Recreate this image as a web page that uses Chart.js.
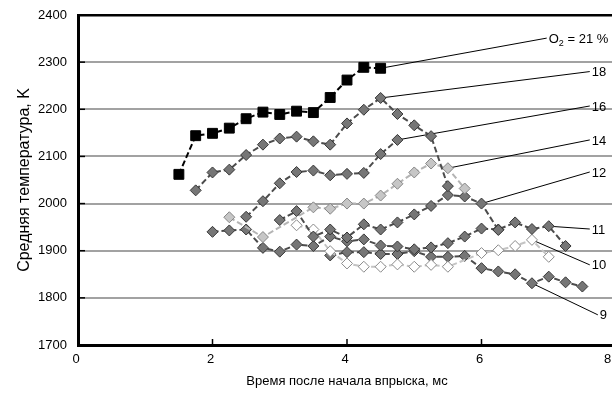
<!DOCTYPE html>
<html><head><meta charset="utf-8">
<script src="https://cdn.jsdelivr.net/npm/chart.js@4/dist/chart.umd.min.js"></script>
<style>
html,body{margin:0;padding:0;background:#fff;overflow:hidden;width:612px;height:396px}
#wrap{position:absolute;left:0;top:0;width:616px;height:396px}
</style>
</head><body><div id="wrap"><canvas id="c" width="616" height="396"></canvas></div>
<script>
const FONT = "'Liberation Sans', Arial, sans-serif";

// ---- data (time, ms / mean temperature, K) ----
const xTicks = [0, 2, 4, 6, 8];
const yTicks = [1700, 1800, 1900, 2000, 2100, 2200, 2300, 2400];
const seriesNames = ['O2 = 21 %', '18', '16', '14', '12', '11', '10', '9'];

const t21 = [1.5, 1.75, 2, 2.25, 2.5, 2.75, 3, 3.25, 3.5, 3.75, 4, 4.25, 4.5];
const T21 = [2062, 2144, 2149, 2160, 2180, 2194, 2189, 2196, 2193, 2225, 2262, 2289, 2287];

const t18 = [1.75, 2, 2.25, 2.5, 2.75, 3, 3.25, 3.5, 3.75, 4, 4.25, 4.5, 4.75, 5, 5.25, 5.5];
const T18 = [2028, 2066, 2072, 2103, 2125, 2138, 2142, 2132, 2125, 2170, 2199, 2224, 2190, 2166, 2143, 2037];

const t16 = [2.5, 2.75, 3, 3.25, 3.5, 3.75, 4, 4.25, 4.5, 4.75];
const T16 = [1972, 2005, 2043, 2067, 2070, 2060, 2063, 2065, 2105, 2135];

const t14 = [2.25, 2.75, 3.5, 3.75, 4, 4.25, 4.5, 4.75, 5, 5.25, 5.5, 5.75];
const T14 = [1971, 1929, 1992, 1989, 2000, 2000, 2017, 2042, 2066, 2085, 2075, 2032];

const t12 = [3, 3.25, 3.5, 3.75, 4, 4.25, 4.5, 4.75, 5, 5.25, 5.5, 5.75, 6, 6.25];
const T12 = [1965, 1984, 1930, 1945, 1928, 1956, 1945, 1960, 1977, 1995, 2018, 2015, 2000, 1944];

const t11 = [2, 2.25, 2.5, 2.75, 3, 3.25, 3.5, 3.75, 4, 4.25, 4.5, 4.75, 5, 5.25, 5.5, 5.75, 6, 6.25, 6.5, 6.75, 7, 7.25];
const T11 = [1940, 1943, 1945, 1906, 1898, 1913, 1910, 1930, 1920, 1924, 1911, 1909, 1903, 1907, 1916, 1930, 1947, 1945, 1960, 1946, 1952, 1910];

const t10 = [3.25, 3.5, 3.75, 4, 4.25, 4.5, 4.75, 5, 5.25, 5.5, 6, 6.25, 6.5, 6.75, 7];
const T10 = [1954, 1945, 1899, 1873, 1866, 1866, 1871, 1866, 1870, 1866, 1895, 1901, 1910, 1923, 1887];

const t9 = [3.75, 4, 4.25, 4.5, 4.75, 5, 5.25, 5.5, 5.75, 6, 6.25, 6.5, 6.75, 7, 7.25, 7.5];
const T9 = [1890, 1897, 1897, 1893, 1893, 1899, 1887, 1887, 1889, 1863, 1856, 1850, 1831, 1845, 1833, 1824];

function pts(xs, ys) { return xs.map((x, i) => ({ x: x, y: ys[i] })); }

const DARK = { line: '#4c4c4c', fill: '#767676', edge: '#363636' };
const LIGHT = { line: '#b4b4b4', fill: '#c6c6c6', edge: '#858585' };
const WHITE = { line: '#c4c4c4', fill: '#ffffff', edge: '#8a8a8a' };

function ds(name, xs, ys, sty, extra) {
  return Object.assign({
    label: name, data: pts(xs, ys), showLine: true, spanGaps: true,
    borderColor: sty.line, borderWidth: 2, borderDash: [6, 3],
    pointStyle: 'rectRot', pointRadius: 5.5, pointHoverRadius: 5.5,
    pointBackgroundColor: sty.fill, pointBorderColor: sty.edge, pointBorderWidth: 1
  }, extra || {});
}

const datasets = [
  ds(seriesNames[0], t21, T21, { line: '#000', fill: '#000', edge: '#000' }, { pointStyle: 'rect', pointRadius: 7 }),
  ds(seriesNames[1], t18, T18, DARK),
  ds(seriesNames[2], t16, T16, DARK),
  ds(seriesNames[3], t14, T14, LIGHT),
  ds(seriesNames[4], t12, T12, DARK),
  ds(seriesNames[5], t11, T11, DARK),
  ds(seriesNames[6], t10, T10, WHITE),
  ds(seriesNames[7], t9, T9, DARK)
];

// leader lines: dataset index, point index, end of the leader in data units
const leaders = [
  { d: 0, i: 12, ex: 6.97, ey: 2351 },
  { d: 1, i: 11, ex: 7.61, ey: 2280 },
  { d: 2, i: 9, ex: 7.61, ey: 2207 },
  { d: 3, i: 10, ex: 7.61, ey: 2135 },
  { d: 4, i: 12, ex: 7.61, ey: 2067 },
  { d: 5, i: 20, ex: 7.61, ey: 1946 },
  { d: 6, i: 13, ex: 7.61, ey: 1870 },
  { d: 7, i: 12, ex: 7.73, ey: 1764 }
];

const decor = {
  id: 'decor',
  beforeDatasetsDraw(chart) {
    const { ctx, scales: { x, y } } = chart;
    ctx.save();
    ctx.strokeStyle = '#000'; ctx.lineWidth = 1; ctx.setLineDash([]);
    leaders.forEach(l => {
      const p = chart.data.datasets[l.d].data[l.i];
      ctx.beginPath();
      ctx.moveTo(x.getPixelForValue(p.x), y.getPixelForValue(p.y));
      ctx.lineTo(x.getPixelForValue(l.ex), y.getPixelForValue(l.ey));
      ctx.stroke();
    });
    ctx.restore();
  },
  afterDraw(chart) {
    const { ctx, scales: { x, y }, chartArea: a } = chart;
    ctx.save();
    ctx.strokeStyle = '#000'; ctx.lineWidth = 1.5; ctx.setLineDash([]);
    yTicks.forEach(v => {
      const py = y.getPixelForValue(v);
      ctx.beginPath(); ctx.moveTo(a.left, py); ctx.lineTo(a.left + 7, py); ctx.stroke();
    });
    xTicks.forEach(v => {
      if (v === 0) return;
      const px = x.getPixelForValue(v);
      ctx.beginPath(); ctx.moveTo(px, a.bottom); ctx.lineTo(px, a.bottom - 6); ctx.stroke();
    });
    // series labels
    ctx.fillStyle = '#000';
    ctx.textBaseline = 'middle';
    ctx.textAlign = 'left';
    leaders.forEach((l, k) => {
      let px = x.getPixelForValue(l.ex) + 2;
      const py = y.getPixelForValue(l.ey) + 1;
      const name = seriesNames[l.d];
      if (k === 0) {
        ctx.font = '13px ' + FONT;
        ctx.fillText('O', px, py);
        px += ctx.measureText('O').width;
        ctx.font = '9px ' + FONT;
        ctx.fillText('2', px, py + 4);
        px += ctx.measureText('2').width;
        ctx.font = '13px ' + FONT;
        ctx.fillText(' = 21 %', px, py);
      } else {
        ctx.font = '13px ' + FONT;
        ctx.fillText(name, px, py);
      }
    });
    ctx.restore();
  }
};

function zeroMargins(s) {
  s.paddingLeft = 0; s.paddingRight = 0; s.paddingTop = 0; s.paddingBottom = 0;
  if (s._margins) { s._margins.left = 0; s._margins.right = 0; s._margins.top = 0; s._margins.bottom = 0; }
}

new Chart(document.getElementById('c'), {
  type: 'scatter',
  data: { datasets: datasets },
  options: {
    responsive: false,
    animation: false,
    events: [],
    layout: { autoPadding: false, padding: { top: 15, right: 0, bottom: 0, left: 0 } },
    plugins: { legend: { display: false }, tooltip: { enabled: false } },
    scales: {
      x: {
        type: 'linear', min: 0, max: 8,
        afterBuildTicks: s => { s.ticks = xTicks.map(v => ({ value: v })); },
        ticks: { font: { family: FONT, size: 13 }, color: '#000', padding: 7, maxRotation: 0,
                 labelOffset: -2, callback: v => (v === 8 ? '8\u2002\u2002' : String(v)) },
        grid: { display: false, drawTicks: false },
        border: { display: true, color: '#000', width: 3 },
        title: { display: true, text: 'Время после начала впрыска, мс', color: '#000',
                 font: { family: FONT, size: 13 }, padding: { top: 0, bottom: 7 } },
        afterFit: s => { s.height = 51; zeroMargins(s); }
      },
      y: {
        type: 'linear', min: 1700, max: 2400,
        afterBuildTicks: s => { s.ticks = yTicks.map(v => ({ value: v })); },
        ticks: { font: { family: FONT, size: 13 }, color: '#000', padding: 11, callback: v => String(v) },
        grid: {
          drawTicks: false,
          color: c => (c.tick && c.tick.value === 2400) ? '#000' : '#a2a2a2',
          lineWidth: c => (c.tick && c.tick.value === 2400) ? 2.5 : 2
        },
        border: { display: true, color: '#000', width: 3 },
        title: { display: true, text: 'Средняя температура, K', color: '#000',
                 font: { family: FONT, size: 16 }, padding: { top: 15, bottom: 0 } },
        afterFit: s => { s.width = 78; zeroMargins(s); }
      }
    }
  },
  plugins: [decor]
});
</script>
</body></html>
